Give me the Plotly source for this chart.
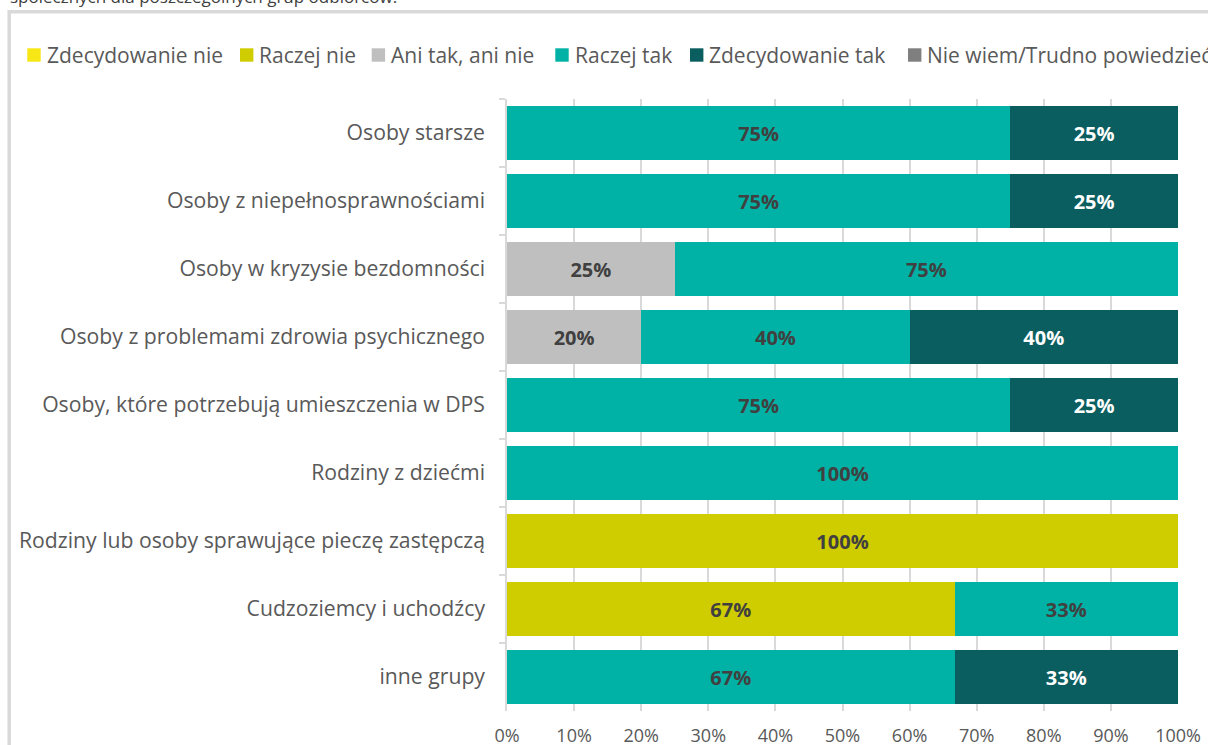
import plotly.graph_objects as go

categories = [
    "Osoby starsze",
    "Osoby z niepełnosprawnościami",
    "Osoby w kryzysie bezdomności",
    "Osoby z problemami zdrowia psychicznego",
    "Osoby, które potrzebują umieszczenia w DPS",
    "Rodziny z dziećmi",
    "Rodziny lub osoby sprawujące pieczę zastępczą",
    "Cudzoziemcy i uchodźcy",
    "inne grupy",
]

series_names = [
    "Zdecydowanie nie",
    "Raczej nie",
    "Ani tak, ani nie",
    "Raczej tak",
    "Zdecydowanie tak",
    "Nie wiem/Trudno powiedzieć",
]

zdecydowanie_nie = [0, 0, 0, 0, 0, 0, 0, 0, 0]
raczej_nie = [0, 0, 0, 0, 0, 0, 100, 66.7, 0]
ani_tak_ani_nie = [0, 0, 25, 20, 0, 0, 0, 0, 0]
raczej_tak = [75, 75, 75, 40, 75, 100, 0, 33.3, 66.7]
zdecydowanie_tak = [25, 25, 0, 40, 25, 0, 0, 0, 33.3]
nie_wiem = [0, 0, 0, 0, 0, 0, 0, 0, 0]

x_ticks = [0, 10, 20, 30, 40, 50, 60, 70, 80, 90, 100]

series_values = [zdecydowanie_nie, raczej_nie, ani_tak_ani_nie,
                 raczej_tak, zdecydowanie_tak, nie_wiem]
colors = ["#f7e714", "#cfcd00", "#bfbfbf", "#00b2a5", "#0b5e60", "#7f7f7f"]
label_colors = ["#404040", "#404040", "#404040", "#404040", "#ffffff", "#ffffff"]

FONT = "Open Sans"
W, H = 1208, 745
ML, MR, MT, MB = 507, 30, 99, 34
PW, PH = W - ML - MR, H - MT - MB

# legend key positions (left edge of each colour square, in px)
legend_key_left = [27.3, 240, 371.7, 555.3, 690, 908]
LEGEND_KEY = 13.4
LEGEND_CY = 55


def px_x(px):
    return (px - ML) / PW


def px_y(py):
    return (H - MB - py) / PH


fig = go.Figure()
for name, vals, col, lcol in zip(series_names, series_values, colors, label_colors):
    texts = [f"{v:.0f}%" if v > 0 else "" for v in vals]
    fig.add_trace(go.Bar(
        y=categories,
        x=vals,
        name=name,
        orientation="h",
        marker=dict(color=col, line=dict(width=0)),
        text=texts,
        textposition="inside",
        insidetextanchor="middle",
        textangle=0,
        constraintext="none",
        textfont=dict(family=FONT, size=20, color=lcol, weight="bold"),
        hoverinfo="skip",
        showlegend=False,
    ))

fig.update_layout(
    width=W,
    height=H,
    margin=dict(l=ML, r=MR, t=MT, b=MB, pad=0, autoexpand=False),
    barmode="stack",
    bargap=0.22,
    plot_bgcolor="white",
    paper_bgcolor="white",
    font=dict(family=FONT, size=21, color="#595959"),
    showlegend=False,
    xaxis=dict(
        range=[0, 100],
        tickvals=x_ticks,
        ticktext=[f"{t}%" for t in x_ticks],
        showgrid=True,
        gridcolor="#d9d9d9",
        gridwidth=1.5,
        zeroline=False,
        showline=False,
        ticks="",
        ticklabelstandoff=12,
        automargin=False,
        tickfont=dict(family=FONT, size=18, color="#595959"),
        fixedrange=True,
    ),
    yaxis=dict(
        categoryorder="array",
        categoryarray=categories,
        autorange="reversed",
        showgrid=False,
        showline=True,
        linecolor="#d9d9d9",
        linewidth=1.5,
        ticks="outside",
        tickson="boundaries",
        ticklen=6,
        tickcolor="#d9d9d9",
        tickwidth=1.5,
        ticklabelstandoff=16,
        automargin=False,
        tickfont=dict(family=FONT, size=21.2, color="#595959"),
        fixedrange=True,
    ),
)

# light grey frame around the chart area
fig.add_shape(
    type="rect", xref="paper", yref="paper",
    x0=px_x(9.2), x1=px_x(1260), y0=px_y(800), y1=px_y(11.7),
    line=dict(color="#d9d9d9", width=3.5), fillcolor="rgba(0,0,0,0)",
    layer="below",
)

# legend row: colour keys with series names
for name, col, left in zip(series_names, colors, legend_key_left):
    fig.add_shape(
        type="rect", xref="paper", yref="paper",
        x0=px_x(left), x1=px_x(left + LEGEND_KEY),
        y0=px_y(LEGEND_CY + LEGEND_KEY / 2), y1=px_y(LEGEND_CY - LEGEND_KEY / 2),
        line=dict(width=0), fillcolor=col,
    )
    fig.add_annotation(
        xref="paper", yref="paper",
        x=px_x(left + LEGEND_KEY + 5), y=px_y(LEGEND_CY),
        xanchor="left", yanchor="middle",
        text=name, showarrow=False, borderpad=0,
        font=dict(family=FONT, size=21, color="#595959"),
    )

# running text line above the chart frame
fig.add_annotation(
    xref="paper", yref="paper",
    x=px_x(8), y=px_y(10),
    xanchor="left", yanchor="bottom",
    text="społecznych dla poszczególnych grup odbiorców.",
    showarrow=False,
    font=dict(family=FONT, size=17, color="#404040"),
)

fig.write_html("out.html")
